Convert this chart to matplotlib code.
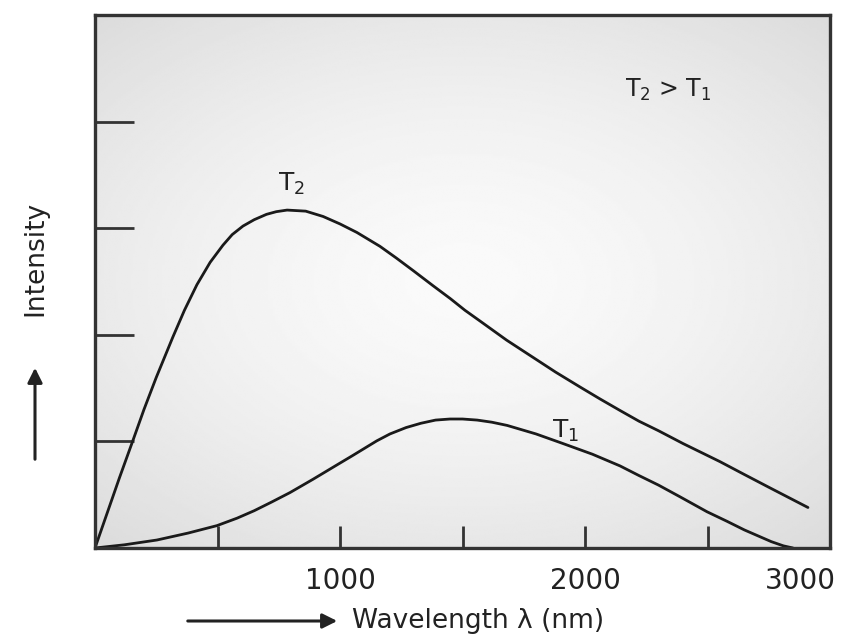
import numpy as np
import matplotlib.pyplot as plt
from matplotlib.transforms import ScaledTranslation

# wavelength (nm) and intensity
t2_wavelength = [0, 100, 155, 200, 250, 318, 365, 416, 470, 522, 560, 604, 650, 700,
                 740, 784, 860, 931, 1000, 1069, 1163, 1230, 1300, 1380, 1450, 1510,
                 1571, 1680, 1780, 1880, 1980, 2060, 2143, 2220, 2300, 2400, 2480,
                 2551, 2650, 2750, 2830, 2910]
t2_intensity = [0, 0.66, 1.01, 1.30, 1.60, 1.98, 2.23, 2.47, 2.68, 2.84, 2.94, 3.02, 3.08,
                3.13, 3.155, 3.17, 3.16, 3.11, 3.04, 2.96, 2.83, 2.72, 2.60, 2.46, 2.34,
                2.23, 2.13, 1.95, 1.80, 1.65, 1.51, 1.40, 1.29, 1.19, 1.10, 0.98, 0.89,
                0.81, 0.69, 0.57, 0.475, 0.38]

t1_wavelength = [0, 120, 253, 380, 498, 580, 650, 720, 796, 890, 988, 1050, 1100, 1150,
                 1204, 1270, 1330, 1390, 1449, 1500, 1560, 1620, 1682, 1800, 1910, 2030,
                 2143, 2220, 2300, 2388, 2498, 2580, 2650, 2710, 2760, 2810, 2849]
t1_intensity = [0, 0.03, 0.075, 0.14, 0.21, 0.28, 0.35, 0.43, 0.52, 0.645, 0.78, 0.865,
                0.935, 1.005, 1.07, 1.13, 1.17, 1.20, 1.21, 1.21, 1.20, 1.18, 1.15, 1.07,
                0.98, 0.88, 0.77, 0.68, 0.59, 0.48, 0.34, 0.25, 0.17, 0.11, 0.06, 0.02, 0.0]

x_ticks = [500, 1000, 1500, 2000, 2500, 3000]
x_labels = ['', '1000', '', '2000', '', '3000']
y_ticks = [1, 2, 3, 4]

fig = plt.figure(figsize=(8.44, 6.41), dpi=100)
ax = fig.add_axes([95 / 844, 1 - 548 / 641, 735 / 844, 533 / 641])

# soft radial grey background
gx, gy = np.meshgrid(np.linspace(-1, 1, 300), np.linspace(-1, 1, 300))
r = np.sqrt((gx * 0.9) ** 2 + gy ** 2)
ax.imshow(0.98 - 0.075 * r ** 1.6, cmap='gray', vmin=0, vmax=1, extent=[0, 1, 0, 1],
          transform=ax.transAxes, aspect='auto', zorder=0, interpolation='bilinear')

line_color = '#1a1a1a'
ax.plot(t2_wavelength, t2_intensity, color=line_color, lw=2.0, solid_capstyle='round',
        solid_joinstyle='round', zorder=2)
ax.plot(t1_wavelength, t1_intensity, color=line_color, lw=2.0, solid_capstyle='round',
        solid_joinstyle='round', zorder=2)

ax.set_xlim(0, 3000)
ax.set_ylim(0, 5)

for s in ax.spines.values():
    s.set_linewidth(2.4)
    s.set_color('#333333')

ax.set_xticks(x_ticks)
ax.set_xticklabels(x_labels)
ax.set_yticks(y_ticks)
ax.set_yticklabels([])
ax.tick_params(axis='x', direction='in', length=16, width=2.0, color='#333333',
               labelsize=20, pad=14, labelcolor='#222222')
ax.tick_params(axis='y', direction='in', length=28, width=2.0, color='#333333')
# last label sits a bit left of the axis end
lbl = ax.get_xticklabels()[-1]
lbl.set_transform(lbl.get_transform() + ScaledTranslation(-0.3, 0, fig.dpi_scale_trans))

ax.text(800, 3.42, 'T$_2$', fontsize=18, ha='center', va='center', color='#222222')
ax.text(1920, 1.1, 'T$_1$', fontsize=18, ha='center', va='center', color='#222222')
ax.text(0.78, 0.86, 'T$_2$ > T$_1$', transform=ax.transAxes, fontsize=17,
        ha='center', va='center', color='#222222')

# axis titles with arrows, placed in figure fractions
ax.annotate('', xy=(340 / 844, 1 - 621 / 641), xytext=(185 / 844, 1 - 621 / 641),
            xycoords='figure fraction',
            arrowprops=dict(arrowstyle='-|>', color='#222222', lw=2.2, mutation_scale=22))
fig.text(352 / 844, 1 - 621 / 641, 'Wavelength λ (nm)', fontsize=19, ha='left',
         va='center', color='#222222')
ax.annotate('', xy=(35 / 844, 1 - 365 / 641), xytext=(35 / 844, 1 - 462 / 641),
            xycoords='figure fraction',
            arrowprops=dict(arrowstyle='-|>', color='#222222', lw=2.2, mutation_scale=22))
fig.text(35 / 844, 1 - 258 / 641, 'Intensity', fontsize=19, rotation=90, ha='center',
         va='center', color='#222222')

fig.savefig('out.png', dpi=100)
